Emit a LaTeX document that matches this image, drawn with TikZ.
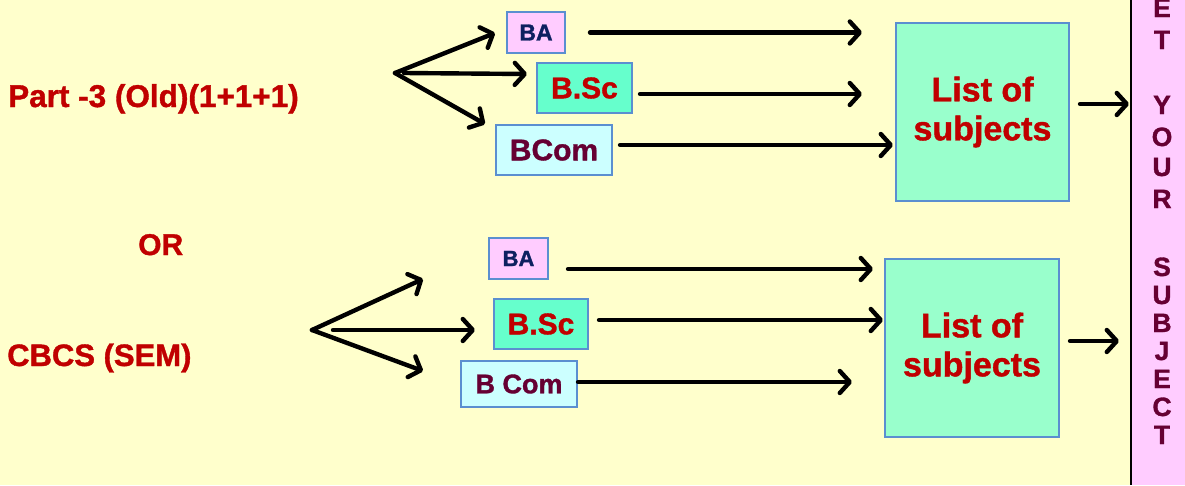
\documentclass[tikz,border=0pt]{standalone}
\usepackage{fontspec}
\setmainfont{Liberation Sans}[BoldFeatures={FakeBold=1.2}]
\usetikzlibrary{arrows.meta}
\definecolor{bg}{RGB}{255,255,204}
\definecolor{pinkf}{RGB}{255,204,255}
\definecolor{aquaf}{RGB}{102,255,204}
\definecolor{mintf}{RGB}{153,255,204}
\definecolor{cyanf}{RGB}{204,255,255}
\definecolor{bordc}{RGB}{91,143,208}
\definecolor{redt}{RGB}{192,0,0}
\definecolor{navyt}{RGB}{13,32,96}
\definecolor{maroont}{RGB}{102,0,51}
\tikzset{
  fs/.style={font=\bfseries\fontsize{#1}{#1}\selectfont},
  box/.style={draw=bordc, line width=1.3pt, inner sep=0pt, outer sep=0pt},
  arr/.style={draw=black, line width=4.4pt, line cap=round, -{Straight Barb[length=10pt,width=22pt,line width=4.4pt,round]}},
  lbl/.style={anchor=base west, text=redt, inner sep=0pt},
  letter/.style={fs=26.5, text=maroont, inner sep=0pt, anchor=base}
}
\begin{document}
\begin{tikzpicture}[x=1pt,y=-1pt]
\useasboundingbox (0,0) rectangle (1185,485);
\fill[bg] (0,0) rectangle (1185,485);
% right panel
\fill[pinkf] (1131,0) rectangle (1185,485);
\draw[black, line width=1.6pt] (1131,0) -- (1131,485);
\foreach \ch/\yy in {E/17, T/49, Y/114, O/146, U/176, R/208, S/276, U/304, B/332, J/360, E/388, C/416, T/444}
  \node[letter] at (1162,\yy) {\ch};

% left labels
\node[lbl, fs=31.5] (part) at (8,107) {Part -3 (Old)(1+1+1)};
\node[lbl, fs=30] (or) at (138,255) {OR};
\node[lbl, fs=31] (cbcs) at (7,366) {CBCS (SEM)};

% top group
\node[box, fill=pinkf, minimum width=58pt, minimum height=41pt, fs=23, text=navyt] (baT) at (536,32.5) {BA};
\node[box, fill=aquaf, minimum width=95pt, minimum height=50pt, fs=30, text=redt] (bscT) at (584.5,88) {B.Sc};
\node[box, fill=cyanf, minimum width=116pt, minimum height=50pt, fs=30, text=maroont] (bcomT) at (554,150) {BCom};
\node[box, fill=mintf, minimum width=173pt, minimum height=178pt, text=redt, align=center,
      font=\bfseries\fontsize{34}{39}\selectfont] (listT) at (982.5,112) {List of\\subjects};

\coordinate (fanT) at (395,73);
\coordinate (fanTm) at (404,73);
\draw[arr] (fanT) -- ([shift={(-12,0.5)}]baT.west);
\draw[arr] (fanTm) -- ([shift={(-10,-14)}]bscT.west);
\draw[arr] (fanT) -- ([shift={(-11,-1)}]bcomT.north west);

\draw[arr] ([xshift=25pt]baT.east) -- ([xshift=-34pt]baT.east -| listT.west);
\draw[arr] ([shift={(8,6)}]bscT.east) -- ([shift={(-34,6)}]bscT.east -| listT.west);
\draw[arr] ([shift={(8,-5)}]bcomT.east) -- ([shift={(-3,-5)}]bcomT.east -| listT.west);
\draw[arr] ([shift={(11,-8)}]listT.east) -- ([shift={(60,-8)}]listT.east);

% bottom group
\node[box, fill=pinkf, minimum width=59pt, minimum height=41pt, fs=22, text=navyt] (baB) at (518.5,258.5) {BA};
\node[box, fill=aquaf, minimum width=94pt, minimum height=50pt, fs=30, text=redt] (bscB) at (541,324) {B.Sc};
\node[box, fill=cyanf, minimum width=116pt, minimum height=46pt, fs=27, text=maroont] (bcomB) at (519,384) {B Com};
\node[box, fill=mintf, minimum width=174pt, minimum height=178pt, text=redt, align=center,
      font=\bfseries\fontsize{34}{39}\selectfont] (listB) at (972,348) {List of\\subjects};

\coordinate (fanB) at (312,330);
\coordinate (fanBm) at (333,330);
\coordinate (tipBu) at (423,279);
\coordinate (tipBm) at (475,330);
\coordinate (tipBd) at (423,371);
\draw[arr] (fanB) -- (tipBu);
\draw[arr] (fanBm) -- (tipBm);
\draw[arr] (fanB) -- (tipBd);

\draw[arr] ([shift={(20,10.5)}]baB.east) -- ([shift={(-12,10.5)}]baB.east -| listB.west);
\draw[arr] ([shift={(11,-4)}]bscB.east) -- ([shift={(-2,-4)}]bscB.east -| listB.west);
\draw[arr] ([shift={(1,-2)}]bcomB.east) -- ([shift={(-33,-2)}]bcomB.east -| listB.west);
\draw[arr] ([shift={(11,-7)}]listB.east) -- ([shift={(60,-7)}]listB.east);
\end{tikzpicture}
\end{document}
